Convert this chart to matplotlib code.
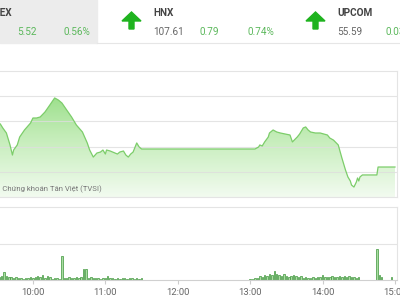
import numpy as np
import matplotlib
matplotlib.use("Agg")
import matplotlib.pyplot as plt
from matplotlib.colors import LinearSegmentedColormap
from matplotlib.patches import Polygon, Rectangle

plt.rcParams['font.family'] = ['Roboto', 'DejaVu Sans']

# chỉ số trong phiên (giờ:phút, điểm)
price_times = ["09:28", "09:33", "09:35", "09:38", "09:41", "09:43", "09:44", "09:47",
               "09:49", "09:53", "09:58", "10:00", "10:03", "10:06", "10:10", "10:14",
               "10:18", "10:21", "10:24", "10:28", "10:32", "10:36", "10:41", "10:45",
               "10:47", "10:50", "10:53", "10:56", "10:58", "11:00", "11:01", "11:04",
               "11:06", "11:10", "11:12", "11:15", "11:17", "11:19", "11:21", "11:23",
               "11:26", "11:28", "11:30", "13:04", "13:07", "13:08", "13:10", "13:12",
               "13:15", "13:16", "13:19", "13:22", "13:25", "13:29", "13:33", "13:35",
               "13:39", "13:41", "13:44", "13:46", "13:48", "13:50", "13:54", "13:58",
               "14:01", "14:04", "14:06", "14:09", "14:13", "14:16", "14:19", "14:21",
               "14:23", "14:24", "14:26", "14:28", "14:29", "14:30", "14:31", "14:33",
               "14:45", "14:46", "15:00"]
price_values = [990.11, 989.79, 989.48, 989.08, 988.13, 987.33, 987.73, 988.13,
                988.76, 989.32, 989.87, 990.27, 990.27, 990.35, 990.75, 991.30,
                991.86, 991.70, 991.46, 990.90, 990.35, 989.71, 989.16, 988.29,
                987.73, 987.17, 987.49, 987.57, 987.73, 987.41, 987.73, 987.65,
                987.57, 987.41, 987.57, 987.65, 987.33, 987.17, 987.41, 987.57,
                988.29, 987.97, 987.81, 987.81, 987.97, 988.13, 988.05, 988.37,
                988.76, 989.08, 989.32, 989.16, 989.08, 989.00, 988.92, 988.37,
                988.76, 989.00, 989.48, 989.56, 989.32, 989.16, 989.08, 989.08,
                989.00, 988.92, 988.68, 988.52, 988.13, 987.10, 986.14, 985.59,
                985.27, 984.95, 984.79, 985.19, 985.51, 985.27, 985.59, 985.75,
                985.75, 986.38, 986.38]

# khối lượng, mỗi cột 2 phút
vol_am_start = "09:32"
vol_am = [3, 4, 8, 4, 3, 3, 2, 3, 2, 2, 1, 2, 2, 3, 2, 3, 4, 3, 5, 2,
          4, 3, 1, 2, 2, 1, 24, 2, 2, 3, 2, 2, 3, 2, 3, 11, 11, 2, 3, 2,
          2, 2, 1, 2, 2, 4, 2, 2, 1, 2, 1, 2, 2, 1, 2, 2, 1, 2, 1, 2]
vol_pm_start = "13:00"
vol_pm = [1, 1, 2, 2, 4, 3, 5, 4, 6, 5, 9, 6, 5, 4, 6, 4, 3, 4, 5, 4,
          3, 4, 2, 3, 2, 2, 3, 2, 3, 3, 5, 3, 3, 3, 4, 3, 3, 4, 3, 4,
          3, 4, 3, 3, 2, 3]
vol_atc_times = ["14:45", "14:47", "14:49", "14:57"]
vol_atc = [31, 5, 3, 3]

tick_labels = ["10:00", "11:00", "12:00", "13:00", "14:00", "15:00"]

# chỉ số trên header
hnx = ["107.61", "0.79", "0.74%"]
upcom = ["55.59", "0.03"]
vni = ["5.52", "0.56%"]


def to_hour(s):
    h, m = s.split(":")
    return int(h) + int(m) / 60.0


t = np.array([to_hour(s) for s in price_times])
v = np.array(price_values)
t_am = to_hour(vol_am_start) + np.arange(len(vol_am)) * 2 / 60.0
t_pm = to_hour(vol_pm_start) + np.arange(len(vol_pm)) * 2 / 60.0
t_atc = np.array([to_hour(s) for s in vol_atc_times])

green_txt = '#5cb85c'
grid_c = '#e4e4e4'
xlim = (9.545, 15.028)

fig = plt.figure(figsize=(4, 3), dpi=100)

# header (toạ độ pixel)
hdr = fig.add_axes([0, 0, 1, 1], zorder=0)
hdr.set_xlim(0, 400)
hdr.set_ylim(300, 0)
hdr.axis('off')
hdr.add_patch(Rectangle((0, 0), 97, 43, color='#ececec'))
hdr.plot([97, 400], [43, 43], color='#e6e6e6', lw=0.8)
for x0 in (122, 306):
    hdr.add_patch(Polygon([[x0, 21], [x0 + 9.5, 12], [x0 + 19, 21], [x0 + 12, 21],
                           [x0 + 12, 29], [x0 + 7, 29], [x0 + 7, 21]],
                          closed=True, color='#1fb31f'))
hdr.text(13, 13, "VN-INDEX", ha='right', va='center', fontsize=7.2, weight='bold', color='#444444')
hdr.text(17, 32, vni[0], va='center', fontsize=7.2, color=green_txt)
hdr.text(64, 32, vni[1], va='center', fontsize=7.2, color=green_txt)
hdr.text(153, 13, "HNX", va='center', fontsize=7.2, weight='bold', color='#444444')
hdr.text(153, 32, hnx[0], va='center', fontsize=7.2, color='#666666')
hdr.text(200, 32, hnx[1], va='center', fontsize=7.2, color=green_txt)
hdr.text(248, 32, hnx[2], va='center', fontsize=7.2, color=green_txt)
hdr.text(337, 13, "UPCOM", va='center', fontsize=7.2, weight='bold', color='#444444')
hdr.text(337, 32, upcom[0], va='center', fontsize=7.2, color='#666666')
hdr.text(385, 32, upcom[1], va='center', fontsize=7.2, color=green_txt)

# biểu đồ chỉ số
ax = fig.add_axes([0, 1 - 197 / 300, 397 / 400, 126 / 300], zorder=1)
ax.patch.set_alpha(0)
ymin, ymax = 984, 994
fill = ax.fill_between(t, v, ymin, color='none', lw=0)
grad = np.linspace(0, 1, 256).reshape(-1, 1)
cmap = LinearSegmentedColormap.from_list('g', ['#f2fbf0', '#c2ecb6', '#84d770'])
im = ax.imshow(grad, aspect='auto', cmap=cmap, origin='lower',
               extent=[xlim[0], xlim[1], ymin, ymax], zorder=1)
im.set_clip_path(fill.get_paths()[0], transform=ax.transData)
ax.plot(t, v, color='#7ccd6a', lw=0.9, zorder=3)
ax.set_xlim(*xlim)
ax.set_ylim(ymin, ymax)
ax.set_yticks([986, 988, 990, 992])
ax.yaxis.grid(True, color='#dedede', lw=0.8, alpha=0.8, zorder=2)
ax.set_axisbelow(False)
ax.tick_params(left=False, bottom=False, labelleft=False, labelbottom=False)
ax.set_xticks([])
ax.spines['left'].set_visible(False)
for s in ('top', 'right', 'bottom'):
    ax.spines[s].set_color(grid_c)
    ax.spines[s].set_linewidth(0.8)

fig.text(102 / 400, 1 - 189 / 300, "\u00a9 2019 Chứng khoán Tân Việt (TVSI)", ha='right',
         va='center', fontsize=5.6, color='#777777', zorder=5)

# biểu đồ khối lượng
axv = fig.add_axes([0, 1 - 280 / 300, 397 / 400, 73 / 300], zorder=1)
axv.patch.set_alpha(0)
bw = 1.2 / 60
for tt, vv in ((t_am, vol_am), (t_pm, vol_pm), (t_atc, vol_atc)):
    axv.bar(tt, vv, width=bw, color='#a9dca1', edgecolor='#3d953a', lw=0.5, zorder=2)
axv.set_xlim(*xlim)
axv.set_ylim(0, 73)
axv.set_yticks([36.5])
axv.yaxis.grid(True, color=grid_c, lw=0.8)
axv.tick_params(left=False, labelleft=False)
axv.set_xticks([to_hour(s) for s in tick_labels])
axv.set_xticklabels(tick_labels, fontsize=6.8, color='#666666')
axv.tick_params(axis='x', length=3, color='#cccccc', pad=3)
axv.spines['left'].set_visible(False)
for s in ('top', 'right'):
    axv.spines[s].set_color(grid_c)
    axv.spines[s].set_linewidth(0.8)
axv.spines['bottom'].set_color('#d0d0d0')
axv.spines['bottom'].set_linewidth(0.8)

fig.savefig('out.png', dpi=100)
